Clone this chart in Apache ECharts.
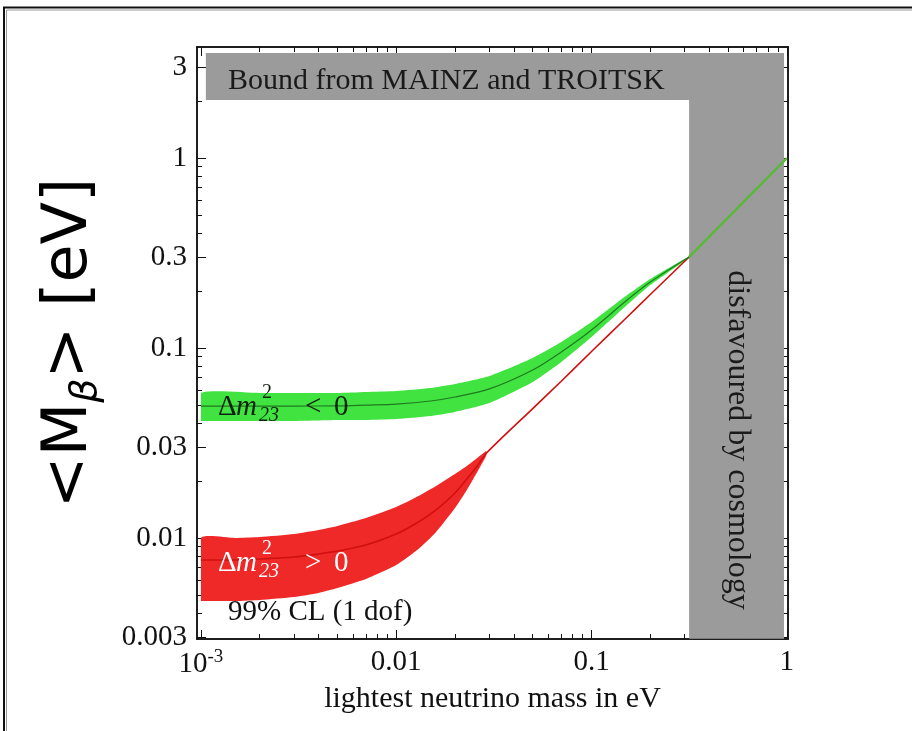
<!DOCTYPE html>
<html>
<head>
<meta charset="utf-8">
<script src="https://cdn.jsdelivr.net/npm/echarts@6/dist/echarts.min.js"></script>
<style>
  html, body { margin: 0; padding: 0; background: #ffffff; }
  #chart { width: 912px; height: 731px; }
</style>
</head>
<body>
<div id="chart"></div>
<script>
// ---- axis ranges (eV) ----
const massRange  = [0.000955, 1.014];
const mBetaRange = [0.00294, 3.84];

// ---- tick marks and labels ----
const massTicksMajor  = [0.001, 0.01, 0.1, 1];
const massTickLabels  = ['10^-3', '0.01', '0.1', '1'];
const massTicksMinor  = [0.002, 0.003, 0.004, 0.005, 0.006, 0.007, 0.008, 0.009,
                         0.02, 0.03, 0.04, 0.05, 0.06, 0.07, 0.08, 0.09,
                         0.2, 0.3, 0.4, 0.5, 0.6, 0.7, 0.8, 0.9];
const mBetaTicksMajor = [0.003, 0.01, 0.03, 0.1, 0.3, 1, 3];
const mBetaTickLabels = ['0.003', '0.01', '0.03', '0.1', '0.3', '1', '3'];
const mBetaTicksMinor = [0.004, 0.005, 0.006, 0.007, 0.008, 0.009,
                         0.02, 0.04, 0.05, 0.06, 0.07, 0.08, 0.09,
                         0.2, 0.4, 0.5, 0.6, 0.7, 0.8, 0.9, 2];

// ---- excluded regions: [lightest mass, <M_beta>] corners ----
const tritiumExcluded   = [[0.00106, 2.02], [0.967, 3.57]];
const cosmologyExcluded = [[0.316, 0.00295], [0.967, 3.57]];

// ---- normal ordering (dm23^2 > 0), 99% CL band ----
const normalMass   = [0.001, 0.0015, 0.002, 0.003, 0.004, 0.005, 0.007, 0.01, 0.013, 0.016, 0.02, 0.023, 0.026, 0.029];
const normalUpper  = [0.0100, 0.0100, 0.01012, 0.0105, 0.01102, 0.01157, 0.01274, 0.01456, 0.01663, 0.01878, 0.02172, 0.02393, 0.02637, 0.0287];
const normalLower  = [0.00466, 0.00466, 0.00472, 0.00489, 0.00514, 0.00546, 0.00609, 0.00721, 0.00875, 0.01076, 0.01438, 0.01789, 0.02225, 0.02734];
// central curve, continuing as a single line once the band has closed
const normalLineMass = [0.001, 0.0015, 0.002, 0.003, 0.004, 0.005, 0.007, 0.01, 0.013, 0.016, 0.02, 0.023, 0.026, 0.029,
                        0.05, 0.07, 0.1, 0.15, 0.2, 0.316];
const normalCentral  = [0.00766, 0.00766, 0.00775, 0.00794, 0.00824, 0.00854, 0.00919, 0.0105, 0.01214, 0.01404, 0.01725, 0.02044, 0.02393, 0.0280,
                        0.04799, 0.06687, 0.09585, 0.1435, 0.1912, 0.3013];

// ---- inverted ordering (dm23^2 < 0), 99% CL band ----
const invertedMass    = [0.001, 0.002, 0.003, 0.005, 0.007, 0.01, 0.015, 0.02, 0.03, 0.05, 0.07, 0.1, 0.15, 0.2, 0.316];
const invertedUpper   = [0.0580, 0.0580, 0.0580, 0.0580, 0.0587, 0.0594, 0.0616, 0.0646, 0.0712, 0.0886, 0.1075, 0.1370, 0.1878, 0.2307, 0.3040];
const invertedCentral = [0.0495, 0.0495, 0.0495, 0.0496, 0.0501, 0.0507, 0.0526, 0.0552, 0.0609, 0.0766, 0.0953, 0.1244, 0.1768, 0.2225, 0.3013];
const invertedLower   = [0.0413, 0.0413, 0.0413, 0.0418, 0.0418, 0.0423, 0.0439, 0.0461, 0.0513, 0.0662, 0.0844, 0.1143, 0.1664, 0.2146, 0.2990];

// ---- quasi-degenerate region, both orderings coincide ----
const degenerateMass  = [0.316, 0.5, 0.7, 1.0];
const degenerateMBeta = [0.3013, 0.486, 0.689, 1.0];

// ---- styling ----
const SERIF = '"Liberation Serif", "DejaVu Serif", serif';
const INK = '#111111';
const GREY = '#9b9b9b';
const GREEN = '#40e340';
const RED = '#ef2828';

const lg = Math.log10;
const toPoints = (xs, ys) => xs.map((x, i) => [lg(x), lg(ys[i])]);
const rectArea = r => [{ coord: [lg(r[0][0]), lg(r[0][1])] }, { coord: [lg(r[1][0]), lg(r[1][1])] }];
const labelFor = (ticks, labels, v) => {
  const i = ticks.findIndex(t => Math.abs(lg(t) - v) < 1e-6);
  return i < 0 ? '' : labels[i];
};

function massAxis(position, ticks, len, withLabels) {
  return {
    type: 'value', position,
    min: lg(massRange[0]), max: lg(massRange[1]),
    splitLine: { show: false },
    axisLine: { show: true, onZero: false, lineStyle: { color: INK, width: 1.5 } },
    axisTick: { show: true, inside: true, length: len, customValues: ticks.map(lg),
                lineStyle: { color: INK, width: 1 } },
    axisLabel: withLabels ? {
      show: true, margin: 9, customValues: massTicksMajor.map(lg),
      formatter: v => {
        const s = labelFor(massTicksMajor, massTickLabels, v);
        const m = s.match(/^(\d+)\^(-?\d+)$/);
        return m ? '{b|' + m[1] + '}{e|' + m[2] + '}' : '{b|' + s + '}';
      },
      rich: {
        b: { fontFamily: SERIF, fontSize: 29, color: INK },
        e: { fontFamily: SERIF, fontSize: 19, color: INK, padding: [0, 0, 14, 0] }
      }
    } : { show: false },
    name: withLabels ? 'lightest neutrino mass in eV' : '',
    nameLocation: 'middle', nameGap: 45,
    nameTextStyle: { fontFamily: SERIF, fontSize: 30, color: INK }
  };
}

function mBetaAxis(position, ticks, len, withLabels) {
  return {
    type: 'value', position,
    min: lg(mBetaRange[0]), max: lg(mBetaRange[1]),
    splitLine: { show: false },
    axisLine: { show: true, onZero: false, lineStyle: { color: INK, width: 1.5 } },
    axisTick: { show: true, inside: true, length: len, customValues: ticks.map(lg),
                lineStyle: { color: INK, width: 1 } },
    axisLabel: withLabels ? {
      show: true, margin: 10, customValues: mBetaTicksMajor.map(lg),
      formatter: v => labelFor(mBetaTicksMajor, mBetaTickLabels, v),
      fontFamily: SERIF, fontSize: 29, color: INK
    } : { show: false },
    name: withLabels ? '{t|<M}{s|β}{t|> [eV]}' : '',
    nameLocation: 'middle', nameGap: 92,
    nameTextStyle: {
      rich: {
        t: { fontFamily: '"DejaVu Sans", sans-serif', fontSize: 62, lineHeight: 70, color: '#000' },
        s: { fontFamily: '"DejaVu Sans", sans-serif', fontSize: 38, lineHeight: 38, fontStyle: 'italic',
             color: '#000', verticalAlign: 'bottom' }
      }
    }
  };
}

// Δm²₂₃ label built from stacked super/subscripts
function deltaLabel(yMid, relation, color) {
  const base = { fontFamily: SERIF, fill: color, verticalAlign: 'middle', align: 'left' };
  const txt = (text, x, y, size, italic) => ({
    type: 'text', z: 100,
    style: Object.assign({ text, x, y, fontSize: size, fontStyle: italic ? 'italic' : 'normal' }, base)
  });
  return {
    type: 'group', z: 100,
    children: [
      txt('Δ', 218, yMid, 29, false),
      txt('m', 236, yMid, 29, true),
      txt('2', 262, yMid - 14, 20, false),
      txt('23', 259, yMid + 9, 20, true),
      txt(relation, 305, yMid, 29, false),
      txt('0', 334, yMid, 29, false)
    ]
  };
}

// confidence band: closed outline from the upper edge and the reversed lower edge
function bandSeries(id, xs, lo, hi, color) {
  const data = xs.map((x, i) => [lg(x), lg(lo[i]), lg(hi[i])]);
  return {
    name: id, type: 'custom', z: 3, silent: true,
    data,
    encode: { x: 0, y: [1, 2] },
    renderItem: (params, api) => {
      if (params.dataIndex !== 0) return null;
      const upper = data.map(d => api.coord([d[0], d[2]]));
      const lower = data.map(d => api.coord([d[0], d[1]])).reverse();
      const pts = upper.concat(lower);
      const xsPx = pts.map(p => p[0]), ysPx = pts.map(p => p[1]);
      const box = [[Math.min(...xsPx), Math.min(...ysPx)], [Math.max(...xsPx), Math.max(...ysPx)]];
      return {
        type: 'polygon',
        shape: { points: pts, smooth: 0.2, smoothConstraint: box },
        style: { fill: color }
      };
    }
  };
}

const chart = echarts.init(document.getElementById('chart'), null, { renderer: 'canvas' });

chart.setOption({
  animation: false,
  backgroundColor: '#ffffff',
  grid: { left: 197, top: 47, width: 591, height: 592, containLabel: false },
  xAxis: [
    massAxis('bottom', massTicksMajor, 9, true),
    massAxis('bottom', massTicksMinor, 5, false),
    massAxis('top', massTicksMajor, 9, false),
    massAxis('top', massTicksMinor, 5, false)
  ],
  yAxis: [
    mBetaAxis('left', mBetaTicksMajor, 9, true),
    mBetaAxis('left', mBetaTicksMinor, 5, false),
    mBetaAxis('right', mBetaTicksMajor, 9, false),
    mBetaAxis('right', mBetaTicksMinor, 5, false)
  ],
  series: [
    {
      name: 'excluded', type: 'line', silent: true, symbol: 'none', z: 2,
      data: [[lg(0.5), lg(1)]], lineStyle: { opacity: 0 },
      markArea: {
        silent: true,
        itemStyle: { color: GREY },
        data: [rectArea(tritiumExcluded), rectArea(cosmologyExcluded)]
      }
    },
    bandSeries('normal', normalMass, normalLower, normalUpper, RED),
    {
      name: 'normal-central', type: 'line', symbol: 'none', smooth: 0.3, z: 4,
      data: toPoints(normalLineMass, normalCentral),
      lineStyle: { color: '#d01010', width: 1.6 }
    },
    bandSeries('inverted', invertedMass, invertedLower, invertedUpper, GREEN),
    {
      name: 'inverted-central', type: 'line', symbol: 'none', smooth: 0.3, z: 4,
      data: toPoints(invertedMass, invertedCentral),
      lineStyle: { color: '#1f7a1f', width: 1.2 }
    },
    {
      name: 'degenerate', type: 'line', symbol: 'none', z: 5,
      data: toPoints(degenerateMass, degenerateMBeta),
      lineStyle: { color: '#5cb83a', width: 2.5 }
    }
  ],
  graphic: [
    // outer frame
    { type: 'rect', z: 100, shape: { x: 4, y: 7.5, width: 930, height: 760 },
      style: { fill: null, stroke: '#111', lineWidth: 2 }, silent: true },
    { type: 'rect', z: 100, shape: { x: 6.5, y: 10, width: 930, height: 760 },
      style: { fill: null, stroke: '#9a9a9a', lineWidth: 1 }, silent: true },
    { type: 'text', z: 100, style: { text: 'Bound from MAINZ and TROITSK', x: 228, y: 81,
        fontFamily: SERIF, fontSize: 30, fill: '#1a1a1a', verticalAlign: 'middle' } },
    { type: 'text', z: 100, x: 737, y: 440, rotation: -Math.PI / 2,
      style: { text: 'disfavoured by cosmology', x: 0, y: 0, align: 'center', verticalAlign: 'middle',
        fontFamily: SERIF, fontSize: 32, fill: '#1a1a1a' } },
    { type: 'text', z: 100, style: { text: '99% CL (1 dof)', x: 228, y: 612,
        fontFamily: SERIF, fontSize: 29, fill: INK, verticalAlign: 'middle' } },
    deltaLabel(407, '<', '#102010'),
    deltaLabel(563, '>', '#ffffff')
  ]
});
</script>
</body>
</html>
